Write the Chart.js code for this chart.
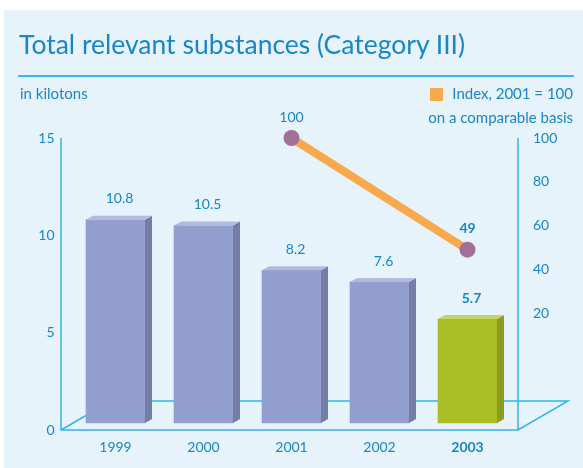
<!DOCTYPE html>
<html lang="en">
<head>
  <meta charset="UTF-8" />
  <title>Total relevant substances (Category III)</title>
  <style>
    body, html {
      margin: 0;
      background: #ffffff;
      font-family: 'Lato', sans-serif;
    }
    #wrap {
      position: relative;
      width: 583px;
      height: 468px;
      overflow: hidden;
    }
    #panel {
      position: absolute;
      left: 4px; top: 10px; right: 0; bottom: 0;
      background: #e6f3fa;
    }
    #chart { position: absolute; left: 0; top: 0; }
    .txt { position: absolute; color: #1a86c8; white-space: nowrap; line-height: 1; }
    #title { left: 19px; top: 31px; font-size: 26.5px; }
    #rule { position: absolute; left: 18px; width: 556px; top: 75px; height: 2px; background: #38b8ea; }
    #unit { left: 20px; top: 86px; font-size: 15px; }
    #legend1 { right: 10px; top: 86px; font-size: 15px; }
    #legend2 { right: 10px; top: 110px; font-size: 15px; }
    #swatch { position: absolute; left: 430px; top: 88px; width: 13px; height: 13px; background: #f8a94e; }
  </style>
</head>
<body>
<div id="wrap">
  <div id="panel"></div>
  <canvas id="chart" width="583" height="468"></canvas>
  <div class="txt" id="title">Total relevant substances (Category III)</div>
  <div id="rule"></div>
  <div class="txt" id="unit">in kilotons</div>
  <div id="swatch"></div>
  <div class="txt" id="legend1">Index, 2001 = 100</div>
  <div class="txt" id="legend2">on a comparable basis</div>
</div>

<script src="https://cdn.jsdelivr.net/npm/chart.js"></script>
<script>
  const years = ['1999', '2000', '2001', '2002', '2003'];
  const kilotons = [10.8, 10.5, 8.2, 7.6, 5.7];
  const indexValues = [null, null, 100, null, 49];
  const leftTicks = [0, 5, 10, 15];
  const rightTicks = [20, 40, 60, 80, 100];

  const textColor = '#1a86c8';
  const axisColor = '#33b5e8';
  const frontColors = ['#929ecd', '#929ecd', '#929ecd', '#929ecd', '#a9bd25'];
  const sideColors = ['#757ca7', '#757ca7', '#757ca7', '#757ca7', '#8c9d1d'];
  const topColors = ['#b4badf', '#b4badf', '#b4badf', '#b4badf', '#c5d16a'];

  // floor, axis lines, 3D bar faces and value labels
  const extras = {
    id: 'extras',
    beforeDatasetsDraw(chart) {
      const ctx = chart.ctx;
      const a = chart.chartArea;
      const y0 = chart.scales.y.getPixelForValue(0);
      const yTop = chart.scales.y.getPixelForValue(15);
      const xl = a.left - 10.5, xr = a.right + 6.5;
      const dx = 50, dy = -29;
      ctx.save();
      ctx.strokeStyle = axisColor;
      ctx.lineWidth = 1.5;
      ctx.beginPath();
      ctx.moveTo(xl, yTop); ctx.lineTo(xl, y0);
      ctx.lineTo(xr, y0); ctx.lineTo(xr + dx, y0 + dy);
      ctx.lineTo(xl + dx, y0 + dy); ctx.lineTo(xl, y0);
      ctx.moveTo(xr, yTop); ctx.lineTo(xr, y0);
      ctx.stroke();
      ctx.restore();
    },
    afterDatasetDraw(chart, args) {
      if (args.index !== 0) return;
      const ctx = chart.ctx;
      const meta = chart.getDatasetMeta(0);
      const d = 7, h = 4;
      ctx.save();
      meta.data.forEach((bar, i) => {
        const left = bar.x - bar.width / 2, right = bar.x + bar.width / 2;
        ctx.fillStyle = sideColors[i];
        ctx.beginPath();
        ctx.moveTo(right, bar.y); ctx.lineTo(right + d, bar.y - h);
        ctx.lineTo(right + d, bar.base - h); ctx.lineTo(right, bar.base);
        ctx.closePath(); ctx.fill();
        ctx.fillStyle = topColors[i];
        ctx.beginPath();
        ctx.moveTo(left, bar.y); ctx.lineTo(left + d, bar.y - h);
        ctx.lineTo(right + d, bar.y - h); ctx.lineTo(right, bar.y);
        ctx.closePath(); ctx.fill();
      });
      ctx.restore();
    },
    afterDraw(chart) {
      const ctx = chart.ctx;
      ctx.save();
      ctx.fillStyle = textColor;
      ctx.textAlign = 'center';
      ctx.textBaseline = 'middle';
      chart.getDatasetMeta(0).data.forEach((bar, i) => {
        ctx.font = (i === 4 ? 'bold ' : '') + '14px Lato';
        ctx.fillText(kilotons[i].toFixed(1), bar.x + 4, bar.y - 21);
      });
      chart.getDatasetMeta(1).data.forEach((pt, i) => {
        if (indexValues[i] === null) return;
        ctx.font = (i === 4 ? 'bold ' : '') + '14px Lato';
        ctx.fillText(String(indexValues[i]), pt.x, pt.y - 21);
      });
      ctx.restore();
    }
  };

  new Chart(document.getElementById('chart').getContext('2d'), {
    type: 'bar',
    data: {
      labels: years,
      datasets: [{
        label: 'in kilotons',
        data: kilotons,
        yAxisID: 'y',
        backgroundColor: frontColors,
        base: 0.36,
        barThickness: 59,
        order: 2
      }, {
        type: 'line',
        label: 'Index, 2001 = 100',
        data: indexValues,
        yAxisID: 'y1',
        spanGaps: true,
        clip: false,
        borderColor: '#f8a94e',
        borderWidth: 8,
        pointRadius: 8,
        pointBackgroundColor: '#a26f99',
        pointBorderWidth: 0,
        order: 1
      }]
    },
    options: {
      responsive: false,
      animation: false,
      layout: { padding: { top: 138, bottom: 0, left: 0, right: 0 } },
      plugins: {
        legend: { display: false },
        tooltip: { enabled: false }
      },
      scales: {
        x: {
          grid: { display: false, drawTicks: false },
          border: { display: false },
          afterFit(scale) { scale.height = 38; },
          ticks: {
            padding: 9,
            color: textColor,
            font: ctx => ({ family: 'Lato', size: 14, weight: ctx.index === 4 ? 'bold' : 'normal' })
          }
        },
        y: {
          position: 'left',
          min: 0,
          max: 15,
          grid: { display: false, drawTicks: false },
          border: { display: false },
          afterFit(scale) { scale.width = 71.5; },
          afterBuildTicks(scale) { scale.ticks = leftTicks.map(v => ({ value: v })); },
          ticks: { padding: 17, color: textColor, font: { family: 'Lato', size: 14 } }
        },
        y1: {
          position: 'right',
          min: -33.4,
          max: 100,
          grid: { display: false, drawTicks: false },
          border: { display: false },
          afterFit(scale) { scale.width = 71.5; },
          afterBuildTicks(scale) { scale.ticks = rightTicks.map(v => ({ value: v })); },
          ticks: { padding: 21.5, color: textColor, font: { family: 'Lato', size: 14 } }
        }
      }
    },
    plugins: [extras]
  });
</script>
</body>
</html>
